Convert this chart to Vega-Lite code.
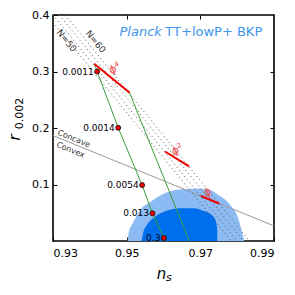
{
  "$schema": "https://vega.github.io/schema/vega-lite/v6.json",
  "width": 221,
  "height": 226,
  "autosize": {"type": "none"},
  "padding": {"left": 53, "top": 15, "right": 21, "bottom": 54},
  "config": {
    "view": {"stroke": "black", "strokeWidth": 1.6},
    "font": "DejaVu Sans",
    "axis": {"labelFont": "DejaVu Sans", "labelFontSize": 11, "labelColor": "black", "tickColor": "black", "tickWidth": 1, "domain": false, "grid": false, "title": null, "tickSize": -4}
  },
  "datasets": {
    "c95": [
      {"ns": 0.95023, "r": 0}, {"ns": 0.95058, "r": 0.0154}, {"ns": 0.95175, "r": 0.0325}, {"ns": 0.95357, "r": 0.0542},
      {"ns": 0.95629, "r": 0.0684}, {"ns": 0.9599, "r": 0.0834}, {"ns": 0.96444, "r": 0.0913}, {"ns": 0.96898, "r": 0.0931},
      {"ns": 0.9726, "r": 0.0901}, {"ns": 0.97532, "r": 0.0795}, {"ns": 0.97714, "r": 0.0707}, {"ns": 0.9785, "r": 0.0604},
      {"ns": 0.97986, "r": 0.0472}, {"ns": 0.98062, "r": 0.033}, {"ns": 0.98122, "r": 0.0177}, {"ns": 0.98193, "r": 0}
    ],
    "c68": [
      {"ns": 0.95403, "r": 0}, {"ns": 0.95452, "r": 0.0154}, {"ns": 0.95547, "r": 0.0277}, {"ns": 0.95683, "r": 0.0383},
      {"ns": 0.95846, "r": 0.0463}, {"ns": 0.96083, "r": 0.0534}, {"ns": 0.96445, "r": 0.0578}, {"ns": 0.96806, "r": 0.0578},
      {"ns": 0.97078, "r": 0.0534}, {"ns": 0.97306, "r": 0.0463}, {"ns": 0.97423, "r": 0.0348}, {"ns": 0.97459, "r": 0.0189},
      {"ns": 0.9746, "r": 0}
    ],
    "gray": [{"ns": 0.93, "r": 0.18667}, {"ns": 0.99, "r": 0.02667}],
    "dots": [
      {"id": "N50", "ns": 0.93, "r": 0.4}, {"id": "N50", "ns": 0.98, "r": 0},
      {"id": "N50b", "ns": 0.93, "r": 0.3872}, {"id": "N50b", "ns": 0.9784, "r": 0},
      {"id": "N60", "ns": 0.93333, "r": 0.4}, {"id": "N60", "ns": 0.98333, "r": 0},
      {"id": "N60b", "ns": 0.93173, "r": 0.4}, {"id": "N60b", "ns": 0.98173, "r": 0}
    ],
    "green": [
      {"id": "g1", "ns": 0.94118, "r": 0.3137}, {"id": "g1", "ns": 0.942, "r": 0.3}, {"id": "g1", "ns": 0.9477, "r": 0.2004},
      {"id": "g1", "ns": 0.9542, "r": 0.0989}, {"id": "g1", "ns": 0.957, "r": 0.049}, {"id": "g1", "ns": 0.9601, "r": 0.0053},
      {"id": "g1", "ns": 0.9604, "r": 0},
      {"id": "g2", "ns": 0.95082, "r": 0.2623}, {"id": "g2", "ns": 0.9537, "r": 0.215}, {"id": "g2", "ns": 0.967, "r": 0}
    ],
    "red": [
      {"id": "p4", "ns": 0.94118, "r": 0.3137}, {"id": "p4", "ns": 0.95082, "r": 0.2623},
      {"id": "p2", "ns": 0.9604, "r": 0.1584}, {"id": "p2", "ns": 0.96694, "r": 0.1322},
      {"id": "p1", "ns": 0.97015, "r": 0.0796}, {"id": "p1", "ns": 0.9751, "r": 0.0664}
    ],
    "pts": [
      {"ns": 0.942, "r": 0.3, "label": "0.0011"},
      {"ns": 0.9477, "r": 0.2004, "label": "0.0014"},
      {"ns": 0.9542, "r": 0.0989, "label": "0.0054"},
      {"ns": 0.957, "r": 0.049, "label": "0.013"},
      {"ns": 0.9601, "r": 0.0053, "label": "0.3"}
    ],
    "phi": [
      {"ns": 0.94679, "r": 0.3051, "label": "ϕ⁴"},
      {"ns": 0.96376, "r": 0.1611, "label": "ϕ²"},
      {"ns": 0.97198, "r": 0.0855, "label": "ϕ"}
    ],
    "nlab": [
      {"ns": 0.93372, "r": 0.3546, "label": "N=50"},
      {"ns": 0.94161, "r": 0.3528, "label": "N=60"}
    ]
  },
  "layer": [
    {
      "data": {"name": "c95"},
      "mark": {"type": "area", "color": "#8cbaf3", "interpolate": "monotone"},
      "encoding": {
        "x": {"field": "ns", "type": "quantitative", "scale": {"domain": [0.93, 0.99], "nice": false, "zero": false},
              "axis": {"orient": "bottom", "values": [0.93, 0.95, 0.97, 0.99], "format": ".2f", "labelPadding": 10}},
        "y": {"field": "r", "type": "quantitative", "scale": {"domain": [0, 0.4], "nice": false, "zero": false},
              "axis": {"orient": "left", "values": [0.1, 0.2, 0.3, 0.4], "format": ".1f", "labelPadding": 8}},
        "y2": {"datum": 0}
      }
    },
    {
      "data": {"name": "c68"},
      "mark": {"type": "area", "color": "#006fed", "interpolate": "monotone"},
      "encoding": {
        "x": {"field": "ns", "type": "quantitative", "scale": {"domain": [0.93, 0.99], "nice": false, "zero": false},
              "axis": {"orient": "top", "values": [0.95, 0.97], "labels": false}},
        "y": {"field": "r", "type": "quantitative", "scale": {"domain": [0, 0.4], "nice": false, "zero": false},
              "axis": {"orient": "right", "values": [0.1, 0.2, 0.3], "labels": false}},
        "y2": {"datum": 0}
      }
    },
    {
      "data": {"name": "gray"},
      "mark": {"type": "line", "color": "#999999", "strokeWidth": 1},
      "encoding": {
        "x": {"field": "ns", "type": "quantitative", "scale": {"domain": [0.93, 0.99], "nice": false, "zero": false}, "axis": null},
        "y": {"field": "r", "type": "quantitative", "scale": {"domain": [0, 0.4], "nice": false, "zero": false}, "axis": null}
      }
    },
    {
      "data": {"name": "dots"},
      "mark": {"type": "line", "color": "#555555", "strokeWidth": 1, "strokeDash": [1, 3]},
      "encoding": {
        "x": {"field": "ns", "type": "quantitative", "scale": {"domain": [0.93, 0.99], "nice": false, "zero": false}, "axis": null},
        "y": {"field": "r", "type": "quantitative", "scale": {"domain": [0, 0.4], "nice": false, "zero": false}, "axis": null},
        "detail": {"field": "id"}
      }
    },
    {
      "data": {"name": "green"},
      "mark": {"type": "line", "color": "#3a9e3a", "strokeWidth": 1},
      "encoding": {
        "x": {"field": "ns", "type": "quantitative", "scale": {"domain": [0.93, 0.99], "nice": false, "zero": false}, "axis": null},
        "y": {"field": "r", "type": "quantitative", "scale": {"domain": [0, 0.4], "nice": false, "zero": false}, "axis": null},
        "detail": {"field": "id"}
      }
    },
    {
      "data": {"name": "red"},
      "mark": {"type": "line", "color": "#ee0000", "strokeWidth": 2},
      "encoding": {
        "x": {"field": "ns", "type": "quantitative", "scale": {"domain": [0.93, 0.99], "nice": false, "zero": false}, "axis": null},
        "y": {"field": "r", "type": "quantitative", "scale": {"domain": [0, 0.4], "nice": false, "zero": false}, "axis": null},
        "detail": {"field": "id"}
      }
    },
    {
      "data": {"name": "pts"},
      "mark": {"type": "point", "filled": true, "fill": "#ee0000", "stroke": "black", "strokeWidth": 0.7, "size": 25, "opacity": 1},
      "encoding": {
        "x": {"field": "ns", "type": "quantitative", "scale": {"domain": [0.93, 0.99], "nice": false, "zero": false}, "axis": null},
        "y": {"field": "r", "type": "quantitative", "scale": {"domain": [0, 0.4], "nice": false, "zero": false}, "axis": null}
      }
    },
    {
      "data": {"name": "pts"},
      "mark": {"type": "text", "align": "right", "baseline": "middle", "dx": -3.5, "fontSize": 9, "color": "black", "font": "DejaVu Sans"},
      "encoding": {
        "x": {"field": "ns", "type": "quantitative", "scale": {"domain": [0.93, 0.99], "nice": false, "zero": false}, "axis": null},
        "y": {"field": "r", "type": "quantitative", "scale": {"domain": [0, 0.4], "nice": false, "zero": false}, "axis": null},
        "text": {"field": "label"}
      }
    },
    {
      "data": {"name": "phi"},
      "mark": {"type": "text", "align": "center", "baseline": "middle", "angle": -35, "fontSize": 11, "fontStyle": "italic", "color": "#f04848", "font": "DejaVu Sans"},
      "encoding": {
        "x": {"field": "ns", "type": "quantitative", "scale": {"domain": [0.93, 0.99], "nice": false, "zero": false}, "axis": null},
        "y": {"field": "r", "type": "quantitative", "scale": {"domain": [0, 0.4], "nice": false, "zero": false}, "axis": null},
        "text": {"field": "label"}
      }
    },
    {
      "data": {"name": "nlab"},
      "mark": {"type": "text", "align": "center", "baseline": "middle", "angle": 51, "fontSize": 9, "color": "#333333", "font": "DejaVu Sans"},
      "encoding": {
        "x": {"field": "ns", "type": "quantitative", "scale": {"domain": [0.93, 0.99], "nice": false, "zero": false}, "axis": null},
        "y": {"field": "r", "type": "quantitative", "scale": {"domain": [0, 0.4], "nice": false, "zero": false}, "axis": null},
        "text": {"field": "label"}
      }
    },
    {
      "data": {"values": [{"ns": 0.93087, "r": 0.1853, "label": "Concave"}]},
      "mark": {"type": "text", "align": "left", "baseline": "bottom", "angle": 22.4, "fontSize": 8, "color": "#333333", "font": "DejaVu Sans"},
      "encoding": {
        "x": {"field": "ns", "type": "quantitative", "scale": {"domain": [0.93, 0.99], "nice": false, "zero": false}, "axis": null},
        "y": {"field": "r", "type": "quantitative", "scale": {"domain": [0, 0.4], "nice": false, "zero": false}, "axis": null},
        "text": {"field": "label"}
      }
    },
    {
      "data": {"values": [{"ns": 0.93141, "r": 0.177, "label": "Convex"}]},
      "mark": {"type": "text", "align": "left", "baseline": "top", "angle": 22.4, "fontSize": 8, "color": "#333333", "font": "DejaVu Sans"},
      "encoding": {
        "x": {"field": "ns", "type": "quantitative", "scale": {"domain": [0.93, 0.99], "nice": false, "zero": false}, "axis": null},
        "y": {"field": "r", "type": "quantitative", "scale": {"domain": [0, 0.4], "nice": false, "zero": false}, "axis": null},
        "text": {"field": "label"}
      }
    },
    {
      "data": {"values": [{"ns": 0.95955, "r": 0.3622, "label": "Planck"}]},
      "mark": {"type": "text", "align": "right", "baseline": "alphabetic", "fontSize": 13, "fontStyle": "italic", "color": "#3d95ee", "font": "DejaVu Sans"},
      "encoding": {
        "x": {"field": "ns", "type": "quantitative", "scale": {"domain": [0.93, 0.99], "nice": false, "zero": false}, "axis": null},
        "y": {"field": "r", "type": "quantitative", "scale": {"domain": [0, 0.4], "nice": false, "zero": false}, "axis": null},
        "text": {"field": "label"}
      }
    },
    {
      "data": {"values": [{"ns": 0.9605, "r": 0.3622, "label": "TT+lowP+ BKP"}]},
      "mark": {"type": "text", "align": "left", "baseline": "alphabetic", "fontSize": 13, "color": "#3d95ee", "font": "DejaVu Sans"},
      "encoding": {
        "x": {"field": "ns", "type": "quantitative", "scale": {"domain": [0.93, 0.99], "nice": false, "zero": false}, "axis": null},
        "y": {"field": "r", "type": "quantitative", "scale": {"domain": [0, 0.4], "nice": false, "zero": false}, "axis": null},
        "text": {"field": "label"}
      }
    },
    {
      "data": {"values": [{"ns": 0.95948, "r": -0.0677, "label": "n"}]},
      "mark": {"type": "text", "align": "center", "baseline": "alphabetic", "fontSize": 15, "fontStyle": "italic", "color": "black", "font": "DejaVu Sans"},
      "encoding": {
        "x": {"field": "ns", "type": "quantitative", "scale": {"domain": [0.93, 0.99], "nice": false, "zero": false}, "axis": null},
        "y": {"field": "r", "type": "quantitative", "scale": {"domain": [0, 0.4], "nice": false, "zero": false}, "axis": null},
        "text": {"field": "label"}
      }
    },
    {
      "data": {"values": [{"ns": 0.9607, "r": -0.0715, "label": "s"}]},
      "mark": {"type": "text", "align": "left", "baseline": "alphabetic", "fontSize": 11, "fontStyle": "italic", "color": "black", "font": "DejaVu Sans"},
      "encoding": {
        "x": {"field": "ns", "type": "quantitative", "scale": {"domain": [0.93, 0.99], "nice": false, "zero": false}, "axis": null},
        "y": {"field": "r", "type": "quantitative", "scale": {"domain": [0, 0.4], "nice": false, "zero": false}, "axis": null},
        "text": {"field": "label"}
      }
    },
    {
      "data": {"values": [{"ns": 0.92095, "r": 0.1832, "label": "r"}]},
      "mark": {"type": "text", "align": "center", "baseline": "alphabetic", "angle": -90, "fontSize": 15, "fontStyle": "italic", "color": "black", "font": "DejaVu Sans"},
      "encoding": {
        "x": {"field": "ns", "type": "quantitative", "scale": {"domain": [0.93, 0.99], "nice": false, "zero": false}, "axis": null},
        "y": {"field": "r", "type": "quantitative", "scale": {"domain": [0, 0.4], "nice": false, "zero": false}, "axis": null},
        "text": {"field": "label"}
      }
    },
    {
      "data": {"values": [{"ns": 0.92176, "r": 0.2256, "label": "0.002"}]},
      "mark": {"type": "text", "align": "center", "baseline": "alphabetic", "angle": -90, "fontSize": 11, "color": "black", "font": "DejaVu Sans"},
      "encoding": {
        "x": {"field": "ns", "type": "quantitative", "scale": {"domain": [0.93, 0.99], "nice": false, "zero": false}, "axis": null},
        "y": {"field": "r", "type": "quantitative", "scale": {"domain": [0, 0.4], "nice": false, "zero": false}, "axis": null},
        "text": {"field": "label"}
      }
    }
  ],
  "resolve": {"axis": {"x": "independent", "y": "independent"}}
}
